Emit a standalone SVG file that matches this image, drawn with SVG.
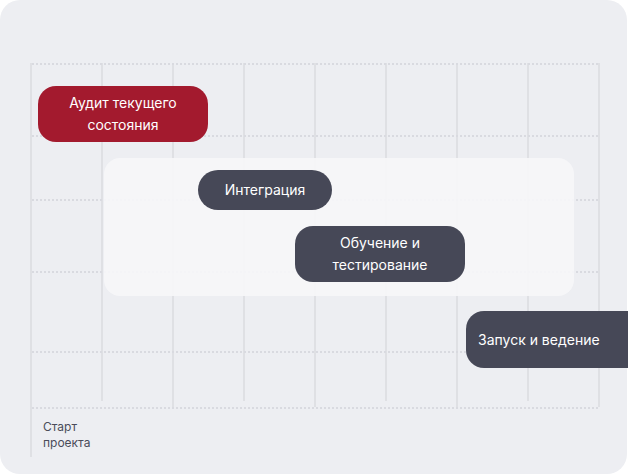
<svg xmlns="http://www.w3.org/2000/svg" width="628" height="475" viewBox="0 0 628 475">
<style>
.vl{stroke:#dfe0e4;stroke-width:2;fill:none}
.hl{stroke:#d9dae0;stroke-width:2;stroke-dasharray:2 2;fill:none}
.nd{fill:#464857}
.tx{font-family:Inter,"Liberation Sans",sans-serif;font-size:14px;fill:#ffffff;text-anchor:middle}
.lb{font-family:Inter,"Liberation Sans",sans-serif;font-size:12px;fill:#4a4c5a}
</style>
<rect x="0" y="0" width="628" height="475" fill="#ffffff"/>
<rect x="0" y="0" width="627" height="474" rx="20" fill="#edeef2"/>
<g id="grid">
<line class="vl" x1="31" y1="63" x2="31" y2="457"/>
<line class="vl" x1="102" y1="63" x2="102" y2="401"/>
<line class="vl" x1="173" y1="63" x2="173" y2="407"/>
<line class="vl" x1="244" y1="63" x2="244" y2="401"/>
<line class="vl" x1="315" y1="63" x2="315" y2="407"/>
<line class="vl" x1="386" y1="63" x2="386" y2="401"/>
<line class="vl" x1="457" y1="63" x2="457" y2="407"/>
<line class="vl" x1="528" y1="63" x2="528" y2="401"/>
<line class="vl" x1="599" y1="63" x2="599" y2="407"/>
<line class="hl" x1="32" y1="64" x2="599" y2="64"/>
<line class="hl" x1="32" y1="136" x2="599" y2="136"/>
<line class="hl" x1="32" y1="200" x2="599" y2="200"/>
<line class="hl" x1="32" y1="272" x2="599" y2="272"/>
<line class="hl" x1="32" y1="352" x2="599" y2="352"/>
<line class="hl" x1="32" y1="408" x2="599" y2="408"/>
</g>
<rect id="phase" x="104" y="158" width="470" height="138" rx="16" fill="#f6f6f8" fill-opacity="0.92"/>
<g id="connectors"></g>
<g id="n1">
<rect x="38" y="86" width="170" height="56" rx="18" fill="#a31a2e"/>
<text class="tx" x="123" y="108">Аудит текущего</text>
<text class="tx" x="123" y="130">состояния</text>
</g>
<g id="n2">
<rect class="nd" x="198" y="170" width="134" height="40" rx="20"/>
<text class="tx" x="265" y="195">Интеграция</text>
</g>
<g id="n3">
<rect class="nd" x="295" y="226" width="170" height="56" rx="18"/>
<text class="tx" x="380" y="248">Обучение и</text>
<text class="tx" x="380" y="270">тестирование</text>
</g>
<g id="n4">
<rect class="nd" x="466" y="311" width="200" height="57" rx="18"/>
<text class="tx" x="478" y="345" text-anchor="start" style="text-anchor:start">Запуск и ведение</text>
</g>
<g id="start">
<text class="lb" x="43" y="431">Старт</text>
<text class="lb" x="43" y="447">проекта</text>
</g>
</svg>
